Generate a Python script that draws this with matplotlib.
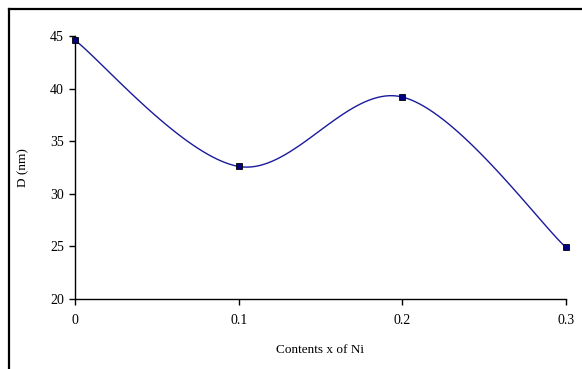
import numpy as np
import matplotlib.pyplot as plt
from matplotlib.lines import Line2D

# Crystallite size vs. Ni content
ni_content = [0.0, 0.1, 0.2, 0.3]
size_nm = [44.6, 32.6, 39.2, 24.9]
x_ticks = [0, 0.1, 0.2, 0.3]
x_tick_labels = ['0', '0.1', '0.2', '0.3']
y_ticks = [20, 25, 30, 35, 40, 45]


def smooth_curve(xs, ys, steps=40):
    # spreadsheet-style smoothing: cubic Bezier segments with 1/6 tangents
    pts = np.column_stack([xs, ys]).astype(float)
    n = len(pts)
    out = []
    for i in range(n - 1):
        p0 = pts[i - 1] if i > 0 else pts[i]
        p1 = pts[i]
        p2 = pts[i + 1]
        p3 = pts[i + 2] if i + 2 < n else pts[i + 1]
        c1 = p1 + (p2 - p0) / 6.0
        c2 = p2 - (p3 - p1) / 6.0
        t = np.linspace(0, 1, steps)[:, None]
        seg = ((1 - t) ** 3) * p1 + 3 * ((1 - t) ** 2) * t * c1 \
            + 3 * (1 - t) * t ** 2 * c2 + t ** 3 * p2
        out.append(seg if i == 0 else seg[1:])
    curve = np.vstack(out)
    return curve[:, 0], curve[:, 1]


plt.rcParams['font.family'] = 'Liberation Serif'

fig = plt.figure(figsize=(5.82, 3.69), dpi=100)
ax = fig.add_axes([75 / 582, 70 / 369, 491 / 582, 263 / 369])

cx, cy = smooth_curve(ni_content, size_nm)
ax.plot(cx, cy, color='#1a1a9c', linewidth=1.0, zorder=2)
ax.plot(ni_content, size_nm, linestyle='none', marker='s', markersize=5,
        markerfacecolor='#000080', markeredgecolor='black',
        markeredgewidth=0.6, zorder=3, clip_on=False)

ax.set_xlim(0, 0.3)
ax.set_ylim(20, 45)
ax.set_xticks(x_ticks)
ax.set_xticklabels(x_tick_labels)
ax.set_yticks(y_ticks)

for side in ('top', 'right'):
    ax.spines[side].set_visible(False)
for side in ('left', 'bottom'):
    ax.spines[side].set_color('black')
    ax.spines[side].set_linewidth(1.0)

ax.tick_params(direction='out', length=4, width=1, labelsize=10,
               colors='black')
ax.tick_params(axis='x', pad=7)
ax.tick_params(axis='y', pad=4)

ax.set_xlabel('Contents x of Ni', fontsize=9.5, labelpad=12)
ax.set_ylabel('D (nm)', fontsize=9.5, labelpad=15)

# chart-area border (left and top edges)
fig.add_artist(Line2D([8.5 / 582, 8.5 / 582], [0, 1 - 8.5 / 369],
                      transform=fig.transFigure, color='black', linewidth=1.6))
fig.add_artist(Line2D([8.5 / 582, 1], [1 - 8.5 / 369, 1 - 8.5 / 369],
                      transform=fig.transFigure, color='black', linewidth=1.6))

fig.savefig('out.png', dpi=100)
